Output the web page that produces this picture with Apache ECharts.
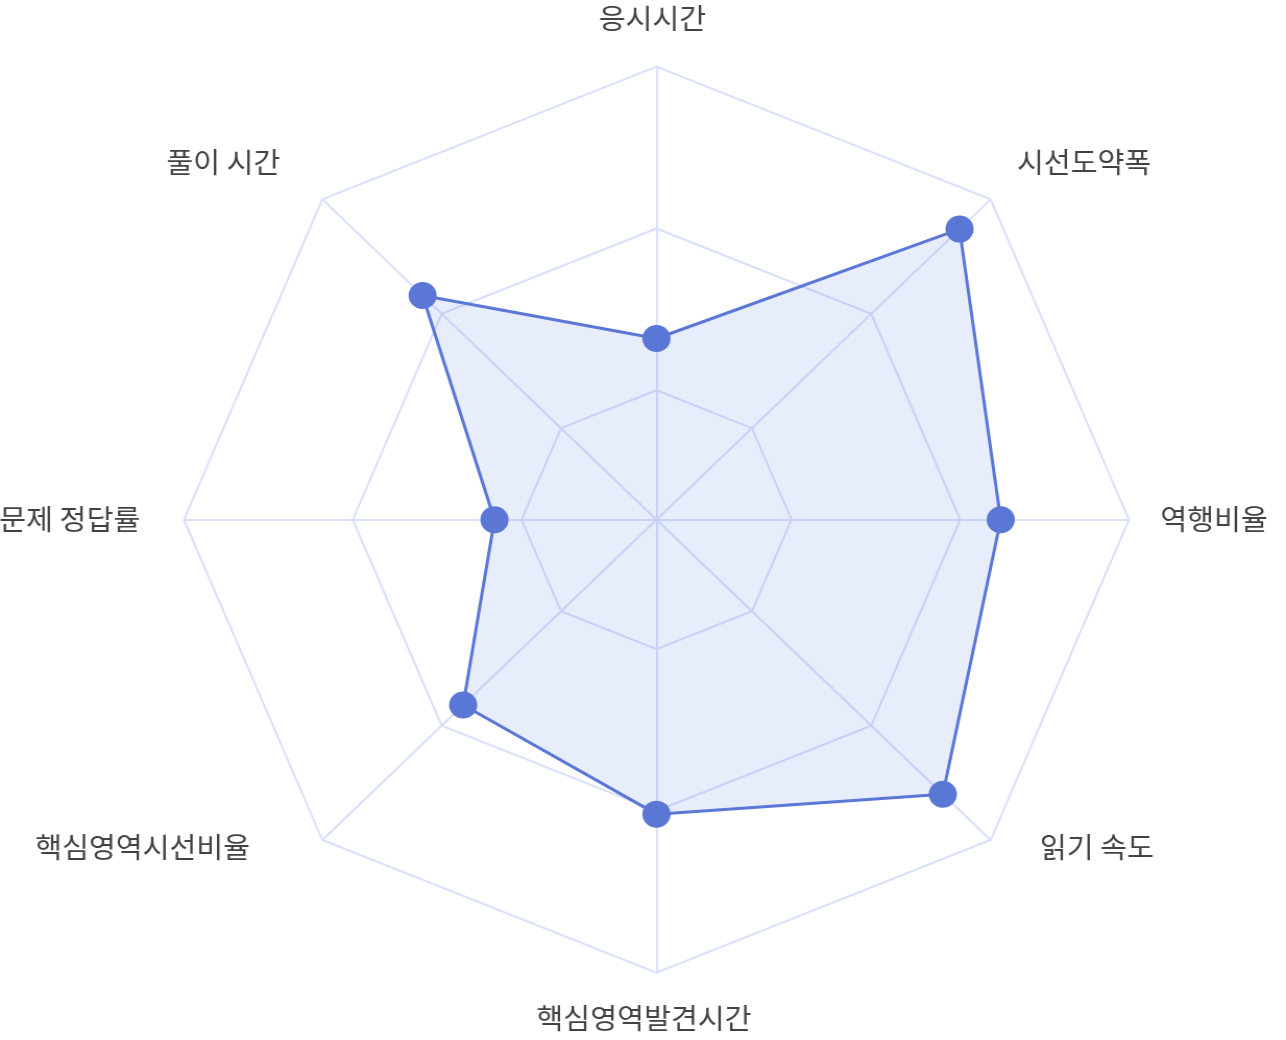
<!DOCTYPE html>
<html>
<head>
<meta charset="utf-8">
<script src="https://cdn.jsdelivr.net/npm/echarts@6/dist/echarts.min.js"></script>
<style>
  html, body { margin: 0; padding: 0; background: #ffffff; overflow: hidden; }
  #chart { width: 1233px; height: 1040px; transform: scaleX(1.043); transform-origin: 0 0; }
</style>
</head>
<body>
<div id="chart"></div>
<script>
// Indicators (counter-clockwise from top, as ECharts lays them out)
const indicatorNames = ['응시시간', '풀이 시간', '문제 정답률', '핵심영역시선비율', '핵심영역발견시간', '읽기 속도', '역행비율', '시선도약폭'];
const seriesValues = [16, 58, 8, 41, 51, 80, 62, 87];
const axisMin = -40;
const axisMax = 100;
const ringValues = [0, 50, 100]; // visible rings

// label padding [top, right, bottom, left] used to nudge each axis name (style only)
const labelPadding = [
  [0, 8, 4, 0],
  [0, 19, 32, 0],
  [0, 12, 0, 0],
  [0, 48, 28, 0],
  [2, 24, 0, 0],
  [0, 0, 28, 26],
  [0, 0, 0, 0],
  [0, 0, 32, 4]
];

const step = 10;
const splitNumber = (axisMax - axisMin) / step;
const ringColors = [];
for (let i = 0; i <= splitNumber; i++) {
  const v = axisMin + i * step;
  ringColors.push(ringValues.indexOf(v) >= 0 ? '#d9e0fb' : 'rgba(0,0,0,0)');
}

const rich = {};
indicatorNames.forEach((n, i) => {
  rich['n' + i] = {
    color: '#424242',
    fontSize: 28,
    fontFamily: '"Noto Sans CJK KR", "Noto Sans", sans-serif',
    padding: labelPadding[i]
  };
});

const chart = echarts.init(document.getElementById('chart'), null, { renderer: 'canvas' });
chart.setOption({
  animation: false,
  backgroundColor: '#ffffff',
  radar: {
    center: [629.4, 519.7],
    radius: 453,
    startAngle: 90,
    shape: 'polygon',
    splitNumber: splitNumber,
    nameGap: 30,
    axisName: {
      color: '#424242',
      fontSize: 28,
      fontFamily: '"Noto Sans CJK KR", "Noto Sans", sans-serif',
      formatter: function (name) {
        const i = indicatorNames.indexOf(name);
        return '{n' + i + '|' + name + '}';
      },
      rich: rich
    },
    indicator: indicatorNames.map(n => ({ name: n, min: axisMin, max: axisMax })),
    axisLine: { show: true, lineStyle: { color: '#d9e0fb', width: 2 } },
    splitLine: { show: true, lineStyle: { color: ringColors, width: 2 } },
    splitArea: { show: false },
    axisTick: { show: false },
    axisLabel: { show: false }
  },
  series: [{
    type: 'radar',
    symbol: 'circle',
    symbolSize: 27,
    lineStyle: { color: '#5a77d6', width: 3 },
    itemStyle: { color: '#5a77d6' },
    areaStyle: { color: 'rgb(102,135,235)', opacity: 0.15 },
    data: [{ value: seriesValues }]
  }]
});
</script>
</body>
</html>
